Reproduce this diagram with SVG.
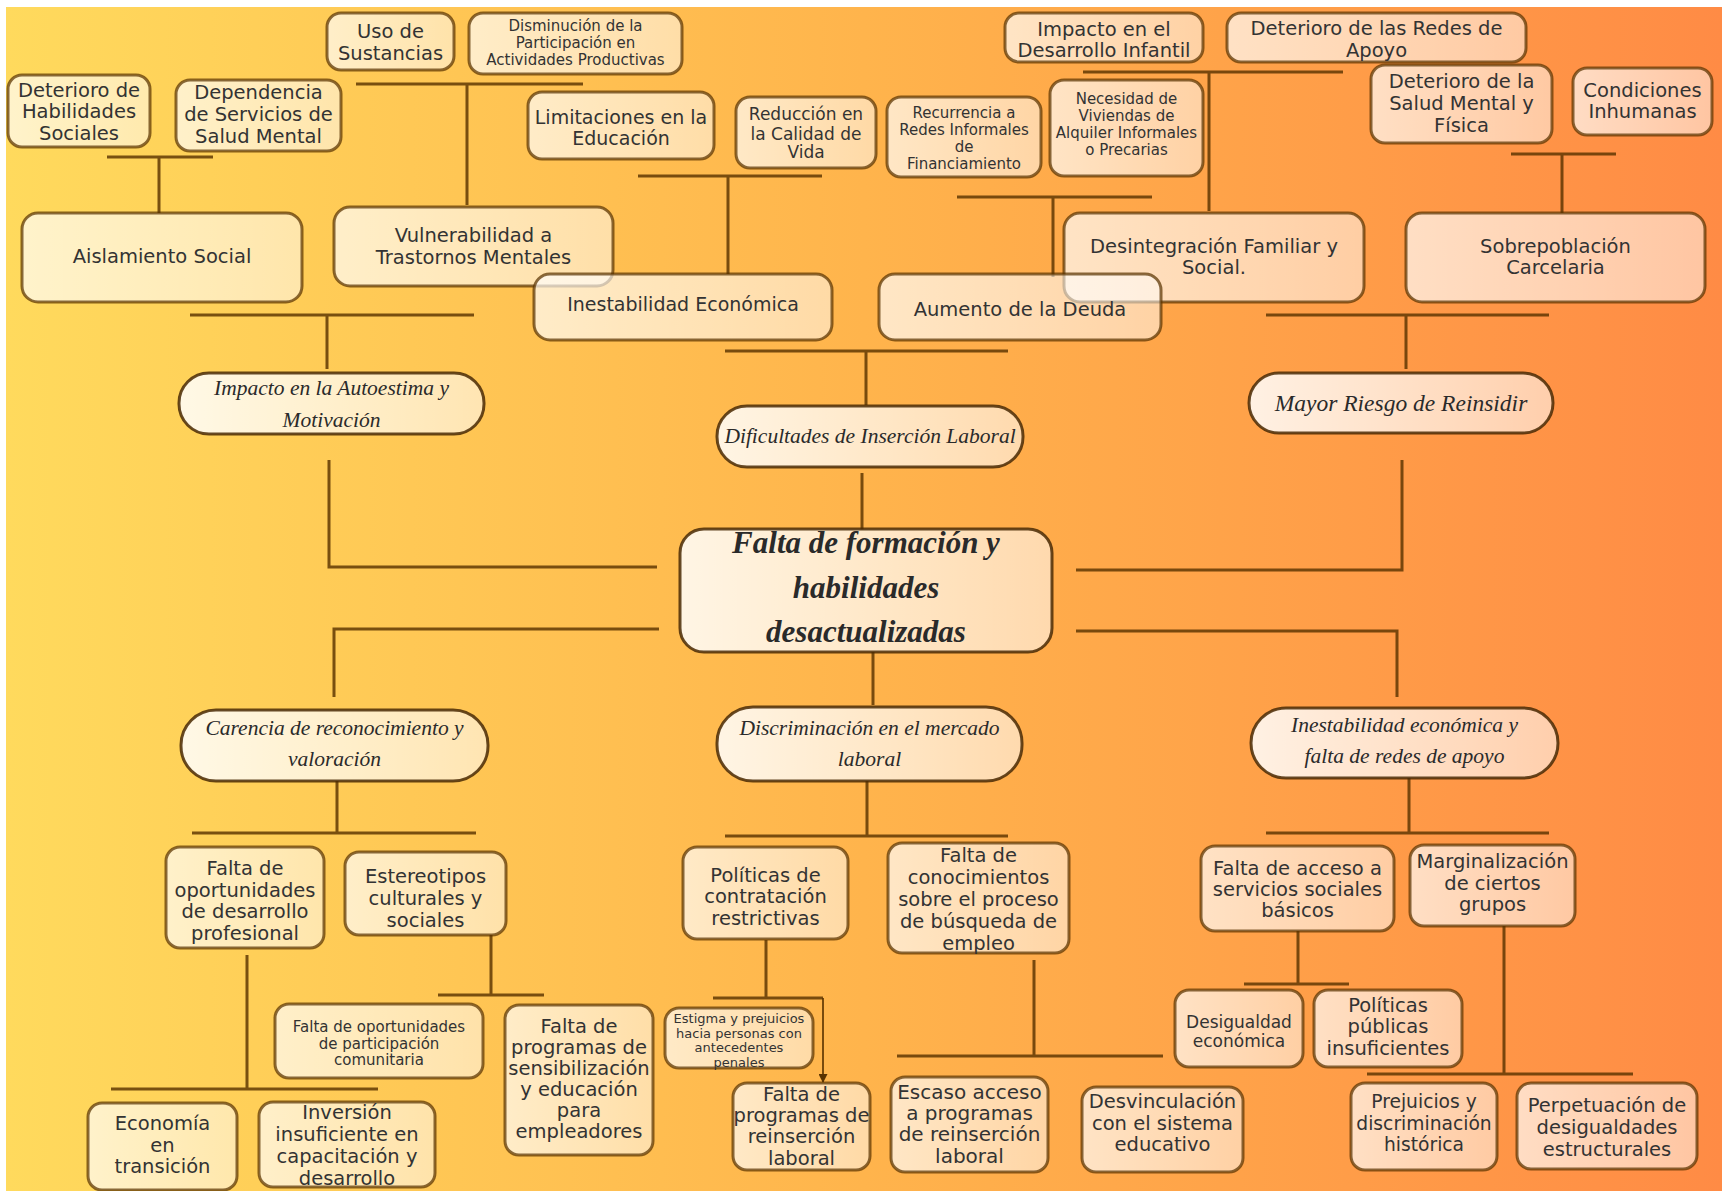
<svg xmlns="http://www.w3.org/2000/svg" width="1722" height="1191" viewBox="0 0 1722 1191">
<defs>
<linearGradient id="bg" x1="0" y1="0" x2="1" y2="0">
<stop offset="0" stop-color="#FFDA5D"/>
<stop offset="0.5" stop-color="#FFB44C"/>
<stop offset="1" stop-color="#FF8B45"/>
</linearGradient>
<linearGradient id="nf" x1="0" y1="0" x2="1" y2="0">
<stop offset="0" stop-color="#FFFFFF" stop-opacity="0.68"/>
<stop offset="1" stop-color="#FFFFFF" stop-opacity="0.5"/>
</linearGradient>
<linearGradient id="pf" x1="0" y1="0" x2="1" y2="0">
<stop offset="0" stop-color="#FFFFFF" stop-opacity="0.85"/>
<stop offset="1" stop-color="#FFFFFF" stop-opacity="0.55"/>
</linearGradient>
<marker id="ah" markerWidth="9" markerHeight="9" refX="8" refY="4.5" orient="auto" markerUnits="userSpaceOnUse">
<path d="M0,0 L9,4.5 L0,9 z" fill="#5a3300"/>
</marker>
<style>
.n rect{fill:url(#nf);stroke:#5a3300;stroke-opacity:.72;stroke-width:3}
.p rect{fill:url(#pf);stroke:#4a2a05;stroke-opacity:.85;stroke-width:3}
.t{font-family:"DejaVu Sans","Liberation Sans",sans-serif;font-size:19.5px;fill:#333;text-anchor:middle}
.s15{font-size:15px}
.s13{font-size:13px}
.s17{font-size:17px}
.s20{font-size:20px}
.pt{font-family:"Liberation Serif",serif;font-style:italic;font-size:21.5px;fill:#2a2a2a;text-anchor:middle}
.ct{font-family:"Liberation Serif",serif;font-style:italic;font-weight:bold;font-size:31px;fill:#2a2a2a;text-anchor:middle}
#conn path{fill:none;stroke:#5a3300;stroke-opacity:.82;stroke-width:3}
#conn path.ar{stroke-width:2;marker-end:url(#ah)}
</style>
</defs>
<rect x="0" y="0" width="1722" height="1191" fill="#FFFFFF"/>
<rect x="6" y="7" width="1716" height="1184" fill="url(#bg)"/>

<g id="conn">
<path d="M107 157H213M159 157V213"/>
<path d="M356 84H583M467 84V205"/>
<path d="M638 176H822M728 176V274"/>
<path d="M957 197H1152M1053 197V277"/>
<path d="M1083 72H1343M1209 72V211"/>
<path d="M1511 154H1616M1562 154V213"/>
<path d="M190 315H474M327 315V369"/>
<path d="M725 351H1008M866 351V405"/>
<path d="M1266 315H1549M1406 315V369"/>
<path d="M329 460V567H657"/>
<path d="M659 629H334V697"/>
<path d="M1402 460V570H1076"/>
<path d="M1076 631H1397V697"/>
<path d="M862 473V530"/>
<path d="M873 652V705"/>
<path d="M337 781V833M192 833H476"/>
<path d="M247 955V1089M111 1089H378"/>
<path d="M491 935V995M438 995H544"/>
<path d="M867 781V836M725 836H1008"/>
<path d="M766 940V998M713 998H823"/>
<path class="ar" d="M823 998V1082"/>
<path d="M1034 960V1056M897 1056H1163"/>
<path d="M1409 778V833M1266 833H1549"/>
<path d="M1298 931V984M1244 984H1349"/>
<path d="M1504 926V1074M1367 1074H1633"/>
</g>

<g id="uso-sustancias" class="n"><rect x="327" y="13" width="127" height="57" rx="14"/>
<text class="t"><tspan x="390.5" y="38">Uso de</tspan><tspan x="390.5" y="60">Sustancias</tspan></text></g>
<g id="disminucion" class="n"><rect x="469" y="13" width="213" height="61" rx="14"/>
<text class="t s15"><tspan x="575.5" y="31">Disminución de la</tspan><tspan x="575.5" y="48">Participación en</tspan><tspan x="575.5" y="65">Actividades Productivas</tspan></text></g>
<g id="deterioro-habilidades" class="n"><rect x="8" y="75" width="142" height="72" rx="14"/>
<text class="t"><tspan x="79" y="97">Deterioro de</tspan><tspan x="79" y="118">Habilidades</tspan><tspan x="79" y="140">Sociales</tspan></text></g>
<g id="dependencia" class="n"><rect x="176" y="80" width="165" height="71" rx="14"/>
<text class="t"><tspan x="258.5" y="99">Dependencia</tspan><tspan x="258.5" y="121">de Servicios de</tspan><tspan x="258.5" y="143">Salud Mental</tspan></text></g>
<g id="aislamiento" class="n"><rect x="22" y="213" width="280" height="89" rx="16"/>
<text class="t" x="162" y="263">Aislamiento Social</text></g>
<g id="vulnerabilidad" class="n"><rect x="334" y="207" width="279" height="79" rx="16"/>
<text class="t"><tspan x="473.5" y="242">Vulnerabilidad a</tspan><tspan x="473.5" y="264">Trastornos Mentales</tspan></text></g>
<g id="limitaciones" class="n"><rect x="528" y="92" width="186" height="67" rx="14"/>
<text class="t" style="font-size:19px"><tspan x="621" y="124">Limitaciones en la</tspan><tspan x="621" y="145">Educación</tspan></text></g>
<g id="reduccion" class="n"><rect x="736" y="97" width="140" height="71" rx="14"/>
<text class="t s17"><tspan x="806" y="120">Reducción en</tspan><tspan x="806" y="140">la Calidad de</tspan><tspan x="806" y="158">Vida</tspan></text></g>
<g id="recurrencia" class="n"><rect x="887" y="97" width="154" height="80" rx="14"/>
<text class="t s15"><tspan x="964" y="118">Recurrencia a</tspan><tspan x="964" y="135">Redes Informales</tspan><tspan x="964" y="152">de</tspan><tspan x="964" y="169">Financiamiento</tspan></text></g>
<g id="necesidad" class="n"><rect x="1050" y="80" width="153" height="96" rx="14"/>
<text class="t s15"><tspan x="1126.5" y="104">Necesidad de</tspan><tspan x="1126.5" y="121">Viviendas de</tspan><tspan x="1126.5" y="138">Alquiler Informales</tspan><tspan x="1126.5" y="155">o Precarias</tspan></text></g>
<g id="impacto-infantil" class="n"><rect x="1005" y="13" width="198" height="49" rx="14"/>
<text class="t"><tspan x="1104" y="36">Impacto en el</tspan><tspan x="1104" y="57">Desarrollo Infantil</tspan></text></g>
<g id="deterioro-redes" class="n"><rect x="1227" y="13" width="299" height="49" rx="14"/>
<text class="t"><tspan x="1376.5" y="35">Deterioro de las Redes de</tspan><tspan x="1376.5" y="57">Apoyo</tspan></text></g>
<g id="deterioro-salud" class="n"><rect x="1371" y="65" width="181" height="78" rx="14"/>
<text class="t"><tspan x="1461.5" y="88">Deterioro de la</tspan><tspan x="1461.5" y="110">Salud Mental y</tspan><tspan x="1461.5" y="132">Física</tspan></text></g>
<g id="condiciones" class="n"><rect x="1573" y="68" width="139" height="67" rx="14"/>
<text class="t"><tspan x="1642.5" y="97">Condiciones</tspan><tspan x="1642.5" y="118">Inhumanas</tspan></text></g>
<g id="desintegracion" class="n"><rect x="1064" y="213" width="300" height="89" rx="16"/>
<text class="t"><tspan x="1214" y="253">Desintegración Familiar y</tspan><tspan x="1214" y="274">Social.</tspan></text></g>
<g id="sobrepoblacion" class="n"><rect x="1406" y="213" width="299" height="89" rx="16"/>
<text class="t"><tspan x="1555.5" y="253">Sobrepoblación</tspan><tspan x="1555.5" y="274">Carcelaria</tspan></text></g>
<g id="inestabilidad-economica" class="n"><rect x="534" y="274" width="298" height="66" rx="16"/>
<text class="t" style="font-size:19px" x="683" y="311">Inestabilidad Económica</text></g>
<g id="aumento-deuda" class="n"><rect x="879" y="274" width="282" height="66" rx="16"/>
<text class="t" x="1020" y="316">Aumento de la Deuda</text></g>

<g id="autoestima" class="p"><rect x="179" y="373" width="305" height="61" rx="30"/>
<text class="pt"><tspan x="331.5" y="395">Impacto en la Autoestima y</tspan><tspan x="331.5" y="427">Motivación</tspan></text></g>
<g id="dificultades" class="p"><rect x="717" y="406" width="306" height="61" rx="30"/>
<text class="pt" x="870" y="443">Dificultades de Inserción Laboral</text></g>
<g id="mayor-riesgo" class="p"><rect x="1249" y="373" width="304" height="60" rx="30"/>
<text class="pt" style="font-size:23.5px" x="1401" y="411">Mayor Riesgo de Reinsidir</text></g>

<g id="centro" class="p"><rect x="680" y="529" width="372" height="123" rx="24"/>
<text class="ct"><tspan x="866" y="553">Falta de formación y</tspan><tspan x="866" y="598">habilidades</tspan><tspan x="866" y="642">desactualizadas</tspan></text></g>

<g id="carencia" class="p"><rect x="181" y="710" width="307" height="71" rx="35"/>
<text class="pt"><tspan x="334.5" y="735">Carencia de reconocimiento y</tspan><tspan x="334.5" y="766">valoración</tspan></text></g>
<g id="discriminacion" class="p"><rect x="717" y="707" width="305" height="74" rx="36"/>
<text class="pt"><tspan x="869.5" y="735">Discriminación en el mercado</tspan><tspan x="869.5" y="766">laboral</tspan></text></g>
<g id="inestabilidad-redes" class="p"><rect x="1251" y="708" width="307" height="70" rx="35"/>
<text class="pt"><tspan x="1404.5" y="732">Inestabilidad económica y</tspan><tspan x="1404.5" y="763">falta de redes de apoyo</tspan></text></g>

<g id="falta-oportunidades-desarrollo" class="n"><rect x="166" y="847" width="158" height="101" rx="14"/>
<text class="t"><tspan x="245" y="875">Falta de</tspan><tspan x="245" y="897">oportunidades</tspan><tspan x="245" y="918">de desarrollo</tspan><tspan x="245" y="940">profesional</tspan></text></g>
<g id="estereotipos" class="n"><rect x="345" y="852" width="161" height="83" rx="14"/>
<text class="t"><tspan x="425.5" y="883">Estereotipos</tspan><tspan x="425.5" y="905">culturales y</tspan><tspan x="425.5" y="927">sociales</tspan></text></g>
<g id="falta-participacion" class="n"><rect x="275" y="1004" width="208" height="74" rx="14"/>
<text class="t s15"><tspan x="379" y="1032">Falta de oportunidades</tspan><tspan x="379" y="1049">de participación</tspan><tspan x="379" y="1065">comunitaria</tspan></text></g>
<g id="falta-sensibilizacion" class="n"><rect x="505" y="1005" width="148" height="150" rx="14"/>
<text class="t"><tspan x="579" y="1033">Falta de</tspan><tspan x="579" y="1054">programas de</tspan><tspan x="579" y="1075">sensibilización</tspan><tspan x="579" y="1096">y educación</tspan><tspan x="579" y="1117">para</tspan><tspan x="579" y="1138">empleadores</tspan></text></g>
<g id="economia-transicion" class="n"><rect x="88" y="1103" width="149" height="87" rx="14"/>
<text class="t"><tspan x="162.5" y="1130">Economía</tspan><tspan x="162.5" y="1152">en</tspan><tspan x="162.5" y="1173">transición</tspan></text></g>
<g id="inversion" class="n"><rect x="259" y="1102" width="176" height="85" rx="14"/>
<text class="t"><tspan x="347" y="1119">Inversión</tspan><tspan x="347" y="1141">insuficiente en</tspan><tspan x="347" y="1163">capacitación y</tspan><tspan x="347" y="1185">desarrollo</tspan></text></g>
<g id="politicas-contratacion" class="n"><rect x="683" y="847" width="165" height="92" rx="14"/>
<text class="t"><tspan x="765.5" y="882">Políticas de</tspan><tspan x="765.5" y="903">contratación</tspan><tspan x="765.5" y="925">restrictivas</tspan></text></g>
<g id="falta-conocimientos" class="n"><rect x="888" y="843" width="181" height="110" rx="14"/>
<text class="t"><tspan x="978.5" y="862">Falta de</tspan><tspan x="978.5" y="884">conocimientos</tspan><tspan x="978.5" y="906">sobre el proceso</tspan><tspan x="978.5" y="928">de búsqueda de</tspan><tspan x="978.5" y="950">empleo</tspan></text></g>
<g id="estigma" class="n"><rect x="665" y="1008" width="148" height="60" rx="14"/>
<text class="t s13"><tspan x="739" y="1023">Estigma y prejuicios</tspan><tspan x="739" y="1038">hacia personas con</tspan><tspan x="739" y="1052">antecedentes</tspan><tspan x="739" y="1067">penales</tspan></text></g>
<g id="falta-reinsercion" class="n"><rect x="733" y="1083" width="137" height="87" rx="14"/>
<text class="t"><tspan x="801.5" y="1101">Falta de</tspan><tspan x="801.5" y="1122">programas de</tspan><tspan x="801.5" y="1143">reinserción</tspan><tspan x="801.5" y="1165">laboral</tspan></text></g>
<g id="escaso-acceso" class="n"><rect x="891" y="1077" width="157" height="95" rx="14"/>
<text class="t s20"><tspan x="969.5" y="1099">Escaso acceso</tspan><tspan x="969.5" y="1120">a programas</tspan><tspan x="969.5" y="1141">de reinserción</tspan><tspan x="969.5" y="1163">laboral</tspan></text></g>
<g id="desvinculacion" class="n"><rect x="1082" y="1087" width="161" height="85" rx="14"/>
<text class="t"><tspan x="1162.5" y="1108">Desvinculación</tspan><tspan x="1162.5" y="1130">con el sistema</tspan><tspan x="1162.5" y="1151">educativo</tspan></text></g>
<g id="falta-acceso" class="n"><rect x="1201" y="846" width="193" height="85" rx="14"/>
<text class="t"><tspan x="1297.5" y="875">Falta de acceso a</tspan><tspan x="1297.5" y="896">servicios sociales</tspan><tspan x="1297.5" y="917">básicos</tspan></text></g>
<g id="marginalizacion" class="n"><rect x="1410" y="845" width="165" height="81" rx="14"/>
<text class="t"><tspan x="1492.5" y="868">Marginalización</tspan><tspan x="1492.5" y="890">de ciertos</tspan><tspan x="1492.5" y="911">grupos</tspan></text></g>
<g id="desigualdad" class="n"><rect x="1175" y="990" width="128" height="77" rx="14"/>
<text class="t s17"><tspan x="1239" y="1028">Desigualdad</tspan><tspan x="1239" y="1047">económica</tspan></text></g>
<g id="politicas-publicas" class="n"><rect x="1314" y="990" width="148" height="77" rx="14"/>
<text class="t"><tspan x="1388" y="1012">Políticas</tspan><tspan x="1388" y="1033">públicas</tspan><tspan x="1388" y="1055">insuficientes</tspan></text></g>
<g id="prejuicios" class="n"><rect x="1351" y="1083" width="146" height="87" rx="14"/>
<text class="t" style="font-size:18.7px"><tspan x="1424" y="1108">Prejuicios y</tspan><tspan x="1424" y="1130">discriminación</tspan><tspan x="1424" y="1151">histórica</tspan></text></g>
<g id="perpetuacion" class="n"><rect x="1517" y="1083" width="180" height="86" rx="14"/>
<text class="t"><tspan x="1607" y="1112">Perpetuación de</tspan><tspan x="1607" y="1134">desigualdades</tspan><tspan x="1607" y="1156">estructurales</tspan></text></g>
</svg>
